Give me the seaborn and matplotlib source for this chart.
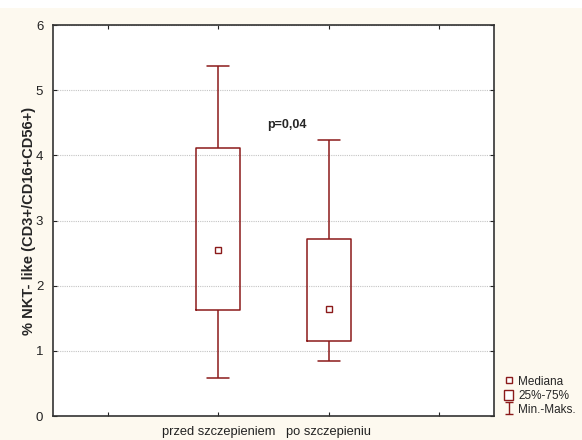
import numpy as np
import pandas as pd
import matplotlib
matplotlib.use("Agg")
import matplotlib.pyplot as plt
from matplotlib.patches import Rectangle, Patch
from matplotlib.lines import Line2D
from matplotlib.path import Path
import seaborn as sns

# min, Q1, median, Q3, max
przed = [0.58, 1.62, 2.54, 4.11, 5.37]
po = [0.84, 1.15, 1.64, 2.71, 4.24]
groups = ["przed szczepieniem", "po szczepieniu"]
p_text = "p=0,04"

df = pd.DataFrame({
    "grupa": [groups[0]] * len(przed) + [groups[1]] * len(po),
    "wartosc": przed + po,
})

red = "#8b1a1a"
cream = "#fdf9ef"

sns.set_style("white")
plt.rcParams["font.family"] = ["Liberation Sans", "DejaVu Sans"]

fig = plt.figure(figsize=(5.82, 4.40), dpi=100, facecolor="white")
fig.add_artist(Rectangle((0, 0), 1, 1 - 8 / 440, transform=fig.transFigure,
                         facecolor=cream, edgecolor="none", zorder=-10))
ax = fig.add_axes([53 / 582, 1 - 416 / 440, 441 / 582, 391 / 440])
ax.set_facecolor("white")

sns.boxplot(data=df, x="grupa", y="wartosc", whis=(0, 100), width=0.4,
            fill=False, color=red, linewidth=1.1, showfliers=False,
            medianprops={"visible": False}, ax=ax)
sns.pointplot(data=df, x="grupa", y="wartosc", estimator="median",
              errorbar=None, linestyle="none", marker="s", color=red,
              markersize=4, ax=ax)
for ln in ax.lines[-3:]:
    if ln.get_marker() == "s":
        ln.set_markerfacecolor("white")
        ln.set_markeredgewidth(1.0)

ax.text(0.625, 4.47, p_text, ha="center", va="center", fontsize=9,
        fontweight="bold")

ax.set_xlim(-1.5, 2.5)
ax.set_ylim(0, 6)
ax.set_xticks([-1, 0, 1, 2])
ax.set_xticklabels(["", groups[0], groups[1], ""], fontsize=9.3)
ax.set_yticks(range(7))
ax.set_yticklabels([str(i) for i in range(7)], fontsize=9.5)
ax.tick_params(direction="in", length=3, top=True, right=True, left=True,
               bottom=True, width=0.8, colors="#222222")
ax.tick_params(axis="y", pad=7)
ax.tick_params(axis="x", pad=7)
ax.yaxis.grid(True, linestyle=(0, (1, 1)), color="#c4c4c4", linewidth=0.8)
ax.set_axisbelow(True)
ax.set_xlabel("")
ax.set_ylabel("% NKT- like (CD3+/CD16+CD56+)", fontsize=10.5,
              fontweight="bold", labelpad=0)
for s in ax.spines.values():
    s.set_visible(True)
    s.set_color("#333333")
    s.set_linewidth(1.2)

cap = Path([(-0.6, -1), (0.6, -1), (0, -1), (0, 1), (-0.6, 1), (0.6, 1)],
           [Path.MOVETO, Path.LINETO, Path.MOVETO, Path.LINETO,
            Path.MOVETO, Path.LINETO])
handles = [
    Line2D([], [], marker="s", linestyle="none", markersize=4,
           markerfacecolor="white", markeredgecolor=red, markeredgewidth=1),
    Patch(facecolor="white", edgecolor=red, linewidth=1),
    Line2D([], [], marker=cap, linestyle="none", markersize=9,
           markerfacecolor="none", markeredgecolor=red, markeredgewidth=1),
]
fig.legend(handles, ["Mediana", "25%-75%", "Min.-Maks."], loc="lower left",
           bbox_to_anchor=(504 / 582, 1 - 416 / 440), frameon=False,
           fontsize=8.5, handlelength=0.8, handleheight=1.0,
           handletextpad=0.4, labelspacing=0.15, borderaxespad=0,
           borderpad=0)

fig.savefig("out.png", dpi=100, facecolor=fig.get_facecolor())
